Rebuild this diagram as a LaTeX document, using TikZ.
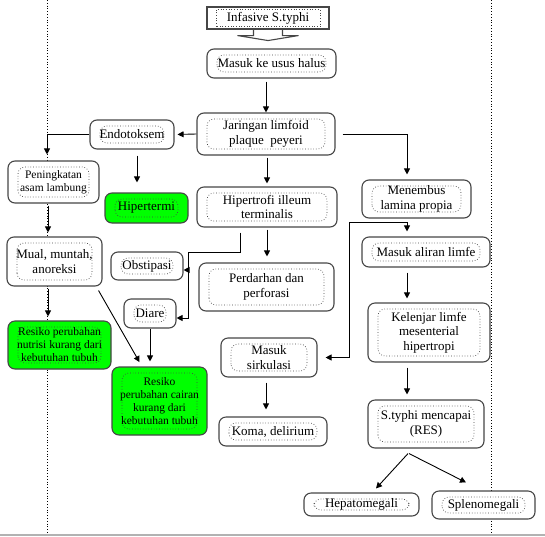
\documentclass[tikz,border=0pt]{standalone}
\usepackage{fontspec}
\setmainfont{Liberation Serif}
\usetikzlibrary{arrows.meta}
\definecolor{wordgreen}{RGB}{0,255,0}
\definecolor{edgegray}{RGB}{70,70,70}
\tikzset{
  arr/.style={-{Triangle[length=6pt,width=6pt]}, black, line width=0.9pt},
  dotin/.style 2 args={path picture={\draw[dotted, line width=0.7pt]
      ([shift={(#1,#2)}]path picture bounding box.south west) rectangle
      ([shift={(-#1,-#2)}]path picture bounding box.north east);}},
  flowbox/.style={draw=edgegray, line width=1.1pt, rounded corners=7pt, fill=white,
                  dotin={10pt}{6pt}, inner sep=0pt, align=center, font=\fontsize{13}{14.5}\selectfont},
  smallbox/.style={flowbox, font=\fontsize{11.5}{13}\selectfont},
  startbox/.style={flowbox, rounded corners=0pt, dotin={9pt}{2.5pt}},
  riskfill/.style={fill=wordgreen},
  guide/.style={dotted, line width=0.8pt},
  blockarr/.style={draw=edgegray, line width=1.1pt, line join=miter},
}

\begin{document}
\begin{tikzpicture}[x=1pt, y=-1pt]
    \useasboundingbox (0,0) rectangle (545,536);
    % page guides
    \draw[guide] (47,0) -- (47,536);
    \draw[guide] (491,0) -- (491,536);
    \draw[gray!60, line width=1.5pt] (0,535) -- (545,535);
    % main chain
    \node[startbox, minimum width=122pt, minimum height=22pt] (inf) at (268,18) {Infasive S.typhi};
    \node[flowbox, minimum width=129pt, minimum height=29pt] (usus) at (271.5,63.5) {Masuk ke usus halus};
    \node[flowbox, minimum width=138pt, minimum height=42pt] (jar) at (266,134) {Jaringan limfoid\\plaque\ \ peyeri};
    \node[flowbox, minimum width=84pt, minimum height=29pt] (endo) at (132,134.5) {Endotoksem};
    \node[smallbox, minimum width=91pt, minimum height=42pt] (pen) at (53.5,182) {Peningkatan\\asam lambung};
    \node[flowbox, riskfill, minimum width=83pt, minimum height=30pt] (hiperm) at (146.5,208) {Hipertermi};
    \node[flowbox, minimum width=140pt, minimum height=40pt] (hipert) at (267,207) {Hipertrofi illeum\\terminalis};
    \node[flowbox, minimum width=109pt, minimum height=38pt] (men) at (416.5,199) {Menembus\\lamina propia};
    \node[flowbox, minimum width=128pt, minimum height=30pt] (limfe) at (426,252) {Masuk aliran limfe};
    \node[flowbox, minimum width=122pt, minimum height=59pt] (kel) at (429,332.5) {Kelenjar limfe\\mesenterial\\hipertropi};
    \node[flowbox, minimum width=116pt, minimum height=48pt] (res) at (426,424) {S.typhi mencapai\\(RES)};
    \node[flowbox, minimum width=115pt, minimum height=23pt] (hepa) at (361.5,504.5) {Hepatomegali};
    \node[flowbox, minimum width=103pt, minimum height=28pt] (splen) at (483.5,505) {Splenomegali};
    % left side
    \node[flowbox, minimum width=95pt, minimum height=49pt] (mual) at (54.5,261.5) {Mual, muntah,\\anoreksi};
    \node[smallbox, riskfill, minimum width=103pt, minimum height=48pt] (nutri) at (59.5,345) {Resiko perubahan\\nutrisi kurang dari\\kebutuhan tubuh};
    \node[flowbox, minimum width=72pt, minimum height=28pt] (obs) at (147,266) {Obstipasi};
    \node[flowbox, minimum width=52pt, minimum height=29pt] (diare) at (150,313.5) {Diare};
    \node[smallbox, riskfill, minimum width=95pt, minimum height=68pt] (cairan) at (159.5,401) {Resiko\\perubahan cairan\\kurang dari\\kebutuhan tubuh};
    \node[flowbox, minimum width=135pt, minimum height=48pt] (perd) at (266.5,287) {Perdarhan dan\\perforasi};
    \node[flowbox, minimum width=96pt, minimum height=39pt] (sirk) at (269,357.5) {Masuk\\sirkulasi};
    \node[flowbox, minimum width=108pt, minimum height=29pt] (koma) at (273,431.5) {Koma, delirium};
    % helper points
    \coordinate (colR) at (407,0);
    \coordinate (bend) at (188,252);
    \coordinate (lj) at (407,222);
    \coordinate (lk) at (349,222);
    % connectors
    \draw[blockarr] ([xshift=-14.5pt]inf.south) -- ++(0,6) -- ++(-16,0) -- ++(30.5,5)
        -- ++(30.5,-5) -- ++(-16,0) -- ++(0,-6);
    \draw[arr, shorten <=3pt] (jar.north |- usus.south) -- (jar.north);
    \draw[arr, shorten >=3pt] (jar.west) -- (endo.east);
    \draw[arr, shorten >=6pt] (endo.west) -| ([xshift=-6.5pt]pen.north);
    \draw[arr, shorten <=6pt, shorten >=10pt] ([xshift=5pt]endo.south) -- ([xshift=5pt]endo.south |- hiperm.north);
    \draw[arr, shorten <=2pt, shorten >=4pt] ([xshift=-6.5pt]mual.north |- pen.south) -- ([xshift=-6.5pt]mual.north);
    \draw[arr, shorten <=2pt, shorten >=4pt] ([xshift=-6.5pt]mual.south) -- ([xshift=-6.5pt]mual.south |- nutri.north);
    \draw[arr, shorten >=5pt] ([shift={(-4pt,-4pt)}]mual.south east) -- ([xshift=-17.5pt]cairan.north);
    \draw[arr, shorten >=5pt] (diare.south) -- (diare.south |- cairan.north);
    \draw[arr] ([shift={(-27pt,-5pt)}]hipert.south) |- (bend) |- ([yshift=-4.5pt]diare.east);
    \draw[arr] ([yshift=-4pt]obs.east -| bend) -- ([yshift=-4pt]obs.east);
    \draw[arr, shorten <=2pt, shorten >=3pt] (jar.south -| hipert.north) -- (hipert.north);
    \draw[arr, shorten <=2pt, shorten >=6pt] (hipert.south) -- (hipert.south |- perd.north);
    \draw[arr, shorten <=7pt, shorten >=5pt] (jar.east) -| ([xshift=-9.5pt]men.north);
    \draw[arr, shorten >=5pt] (lj) -- (lj |- limfe.north);
    \draw[arr, shorten >=8pt] (lj) -- (lk) |- (sirk.east);
    \draw[arr, shorten <=5pt, shorten >=4pt] (limfe.south -| colR) -- (kel.north -| colR);
    \draw[arr, shorten <=5pt, shorten >=5pt] (kel.south -| colR) -- (res.north -| colR);
    \draw[arr] ([shift={(-18pt,-5pt)}]res.south) -- ([shift={(14.5pt,4pt)}]hepa.north);
    \draw[arr] ([shift={(-17pt,-5pt)}]res.south) -- ([shift={(-17.5pt,8pt)}]splen.north);
    \draw[arr, shorten <=5pt, shorten >=7pt] ([xshift=-3pt]sirk.south) -- ([xshift=-3pt]sirk.south |- koma.north);
\end{tikzpicture}
\end{document}
